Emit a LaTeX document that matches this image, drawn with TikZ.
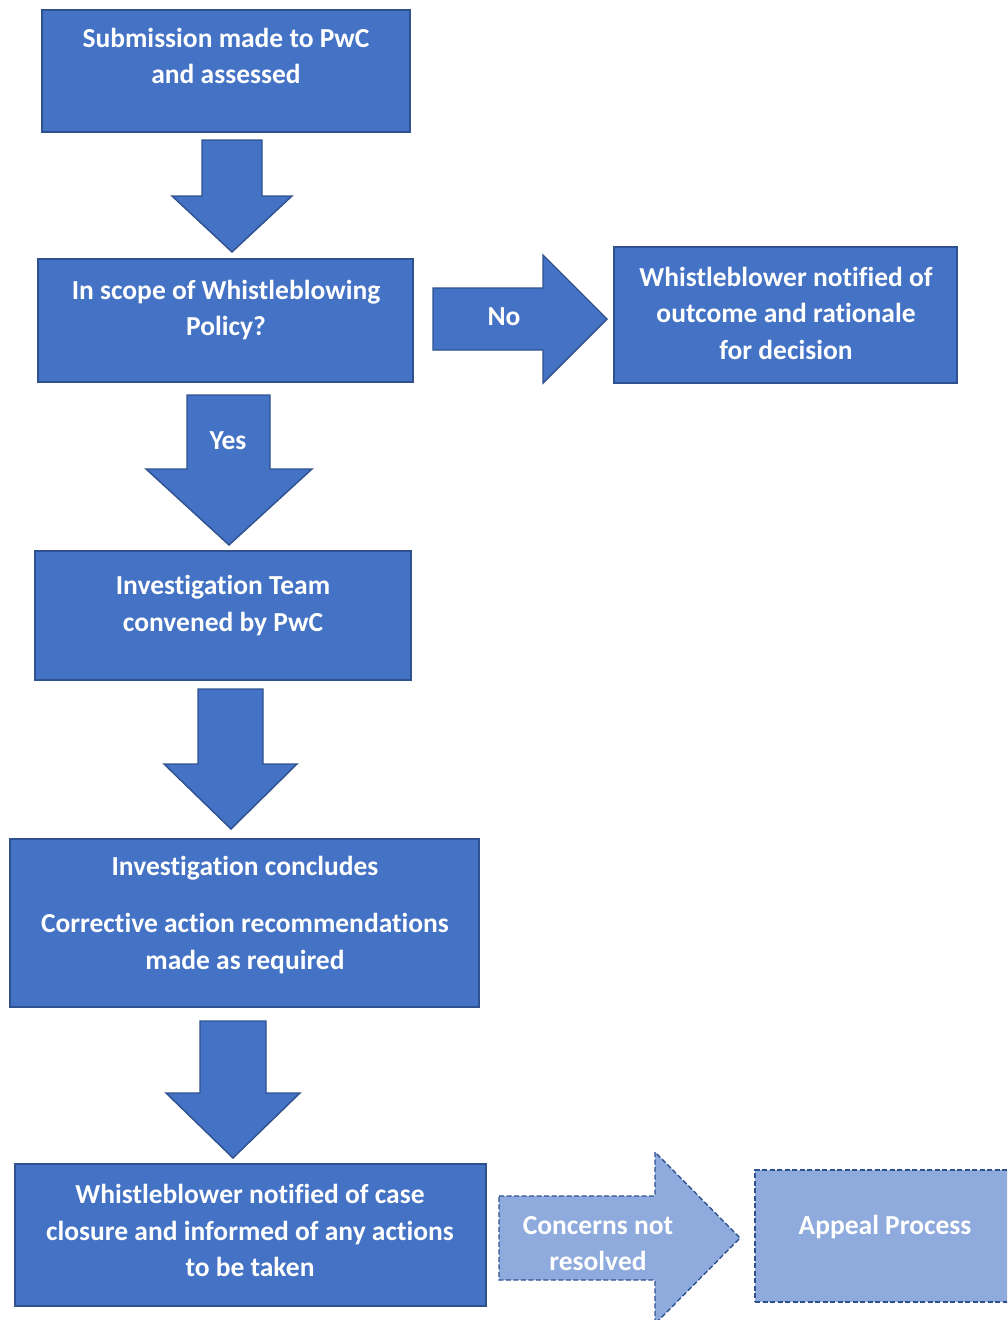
\documentclass[tikz,border=0pt]{standalone}
\usepackage{fontspec}
\setmainfont[Ligatures=NoCommon]{Carlito}
\usepackage{tikz}
\usetikzlibrary{positioning}

\definecolor{boxblue}{HTML}{4472C4}
\definecolor{edgeblue}{HTML}{2F528F}
\definecolor{paleblue}{HTML}{8FAADC}

\tikzset{
  stepbox/.style={draw=edgeblue, fill=boxblue, line width=1.6pt, rectangle, inner sep=0pt},
  palebox/.style={draw=edgeblue, fill=paleblue, line width=1.6pt, dash pattern=on 5pt off 2.5pt, rectangle, inner sep=0pt},
  blockarrow/.style={draw=edgeblue, fill=boxblue, line width=1.4pt, line join=miter},
  palearrow/.style={draw=edgeblue, fill=paleblue, line width=1.4pt, dash pattern=on 5pt off 2.5pt},
  boxtext/.style={text=white, font=\fontsize{27.5}{36.5}\selectfont\bfseries, align=center, inner sep=0pt},
}

\begin{document}
\begin{tikzpicture}[x=1pt, y=-1pt]
      \clip (0,0) rectangle (1007,1320);
      \useasboundingbox (0,0) rectangle (1007,1320);

      % boxes
      \node[stepbox, minimum width=368, minimum height=122] (submit) at (226,71) {};
      \node[boxtext] (submittext) at (226,56) {Submission made to PwC\\and assessed};

      \node[stepbox, minimum width=375, minimum height=123] (scope) at (225.5,320.5) {};
      \node[boxtext] (scopetext) at (226,310) {In scope of Whistleblowing\\Policy?};

      \node[stepbox, minimum width=343, minimum height=136] (notified) at (785.5,315) {};
      \node[boxtext] (notifiedtext) at (786,313) {Whistleblower notified of\\outcome and rationale\\for decision};

      \node[stepbox, minimum width=376, minimum height=129] (team) at (223,615.5) {};
      \node[boxtext] (teamtext) at (223,605.5) {Investigation Team\\convened by PwC};

      \node[stepbox, minimum width=469, minimum height=168] (concl) at (244.5,923) {};
      \node[boxtext] (concltext) at (245,868) {Investigation concludes};
      \node[boxtext] (corrtext) at (245,943.5) {Corrective action recommendations\\made as required};

      \node[stepbox, minimum width=471, minimum height=142] (closure) at (250.5,1235) {};
      \node[boxtext] (closuretext) at (250,1230.5) {Whistleblower notified of case\\closure and informed of any actions\\to be taken};

      \node[palebox, minimum width=270, minimum height=132] (appeal) at (890,1236) {};
      \node[boxtext] (appealtext) at (885,1227) {Appeal Process};

      % block arrows
      \draw[blockarrow] (202,140) -- (262,140) -- (262,196) -- (292,196) -- (232,252)
            -- (172,196) -- (202,196) -- cycle;

      \draw[blockarrow] (433,288) -- (543,288) -- (543,255) -- (607,319) -- (543,383)
            -- (543,350) -- (433,350) -- cycle;
      \node[boxtext] (no) at (504,317) {No};

      \draw[blockarrow] (187,395) -- (270,395) -- (270,469) -- (312,469) -- (229,545)
            -- (146,469) -- (187,469) -- cycle;
      \node[boxtext] (yes) at (228,441) {Yes};

      \draw[blockarrow] (198,689) -- (263,689) -- (263,764) -- (297,764) -- (231,829)
            -- (164,764) -- (198,764) -- cycle;

      \draw[blockarrow] (200,1021) -- (266,1021) -- (266,1093) -- (300,1093) -- (233,1158)
            -- (166,1093) -- (200,1093) -- cycle;

      \draw[palearrow] (499,1196) -- (655,1196) -- (655,1152) -- (740,1238) -- (655,1324)
            -- (655,1280) -- (499,1280) -- cycle;
      \node[boxtext] (concerns) at (598,1243.5) {Concerns not\\resolved};
    \end{tikzpicture}
\end{document}
